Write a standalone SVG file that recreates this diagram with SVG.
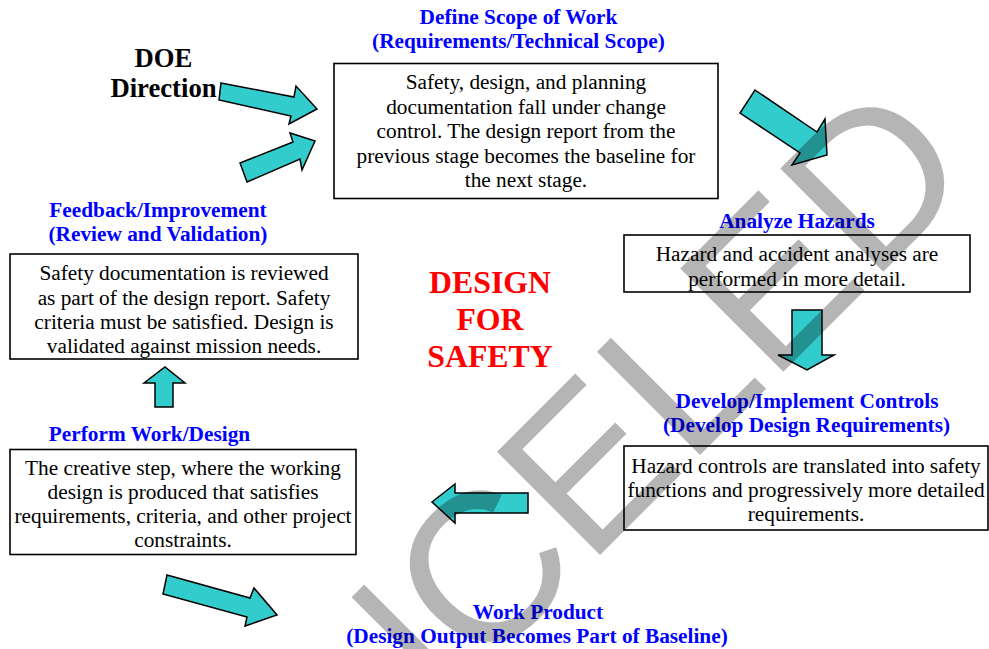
<svg xmlns="http://www.w3.org/2000/svg" width="989" height="649" viewBox="0 0 989 649">
<style>
.bx{fill:#fff;stroke:#000;stroke-width:1.6}
.t{font-family:"Liberation Serif","Times New Roman",serif;font-size:21.3px;fill:#000;text-anchor:middle}
.h{font-family:"Liberation Serif","Times New Roman",serif;font-size:21.3px;font-weight:bold;fill:#0000ff;text-anchor:middle}
.doe{font-family:"Liberation Serif","Times New Roman",serif;font-size:26.7px;font-weight:bold;fill:#000;text-anchor:middle}
.red{font-family:"Liberation Serif","Times New Roman",serif;font-size:31.8px;font-weight:bold;fill:#ff0000;text-anchor:middle}
.ar{fill:#33cccc;stroke:#000;stroke-width:1.5;stroke-linejoin:miter}
.wm{font-family:"Liberation Sans",Arial,sans-serif;font-size:212px;fill:#000;fill-opacity:0.29}
</style>
<rect width="989" height="649" fill="#fff"/>
<g id="doe-direction">
<text class="doe" x="163.5" y="67">DOE</text>
<text class="doe" x="163.5" y="97">Direction</text>
</g>
<g id="define-scope">
<text class="h" x="518.5" y="24">Define Scope of Work</text>
<text class="h" x="518.5" y="48">(Requirements/Technical Scope)</text>
<rect class="bx" x="334" y="63.5" width="384" height="135"/>
<text class="t" x="526" y="89">Safety, design, and planning</text>
<text class="t" x="526" y="113.5">documentation fall under change</text>
<text class="t" x="526" y="138">control. The design report from the</text>
<text class="t" x="526" y="162.5">previous stage becomes the baseline for</text>
<text class="t" x="526" y="187">the next stage.</text>
</g>
<g id="analyze-hazards">
<text class="h" x="797" y="228">Analyze Hazards</text>
<rect class="bx" x="624" y="235" width="346" height="57"/>
<text class="t" x="797" y="261">Hazard and accident analyses are</text>
<text class="t" x="797" y="286">performed in more detail.</text>
</g>
<g id="develop-controls">
<text class="h" x="807" y="408">Develop/Implement Controls</text>
<text class="h" x="806.5" y="432">(Develop Design Requirements)</text>
<rect class="bx" x="624" y="446" width="364" height="84"/>
<text class="t" x="806" y="473">Hazard controls are translated into safety</text>
<text class="t" x="806" y="497">functions and progressively more detailed</text>
<text class="t" x="806" y="521">requirements.</text>
</g>
<g id="perform-work">
<text class="h" x="149.5" y="441">Perform Work/Design</text>
<rect class="bx" x="10" y="449.5" width="346" height="105"/>
<text class="t" x="183" y="475">The creative step, where the working</text>
<text class="t" x="183" y="499">design is produced that satisfies</text>
<text class="t" x="183" y="523">requirements, criteria, and other project</text>
<text class="t" x="183" y="547">constraints.</text>
</g>
<g id="feedback">
<text class="h" x="158" y="217">Feedback/Improvement</text>
<text class="h" x="158" y="241">(Review and Validation)</text>
<rect class="bx" x="10" y="254" width="348" height="105"/>
<text class="t" x="184" y="280">Safety documentation is reviewed</text>
<text class="t" x="184" y="305">as part of the design report. Safety</text>
<text class="t" x="184" y="329">criteria must be satisfied. Design is</text>
<text class="t" x="184" y="353">validated against mission needs.</text>
</g>
<g id="work-product">
<text class="h" x="538" y="619">Work Product</text>
<text class="h" x="537" y="643">(Design Output Becomes Part of Baseline)</text>
</g>
<g id="design-for-safety">
<text class="red" x="490" y="293">DESIGN</text>
<text class="red" x="490" y="330">FOR</text>
<text class="red" x="490" y="367">SAFETY</text>
</g>
<g id="connectors">
<polygon class="ar" points="221,83 294,97 296,86 317,109 289,124 291,116 219,100"/>
<polygon class="ar" points="240,163 293,142 290,133 315,141 302,170 300,159 247,182"/>
<polygon class="ar" points="755,90 817,132 825,119 827,155 792,165 800,153 740,113"/>
<polygon class="ar" points="792,310 822,310 822,355 834,355 807,370 778,355 792,355"/>
<polygon class="ar" points="528,493 455,493 455,484 432,502 455,523 455,513 528,513"/>
<polygon class="ar" points="155,407 155,383 144,383 165,367 185,383 173,383 173,407"/>
<polygon class="ar" points="167,575 250,598 254,588 277,615 245,626 247,617 163,594"/>
</g>
<g id="watermark">
<text class="wm" x="163" y="992" transform="rotate(-45 163 992)">CANCELED</text>
</g>
</svg>
